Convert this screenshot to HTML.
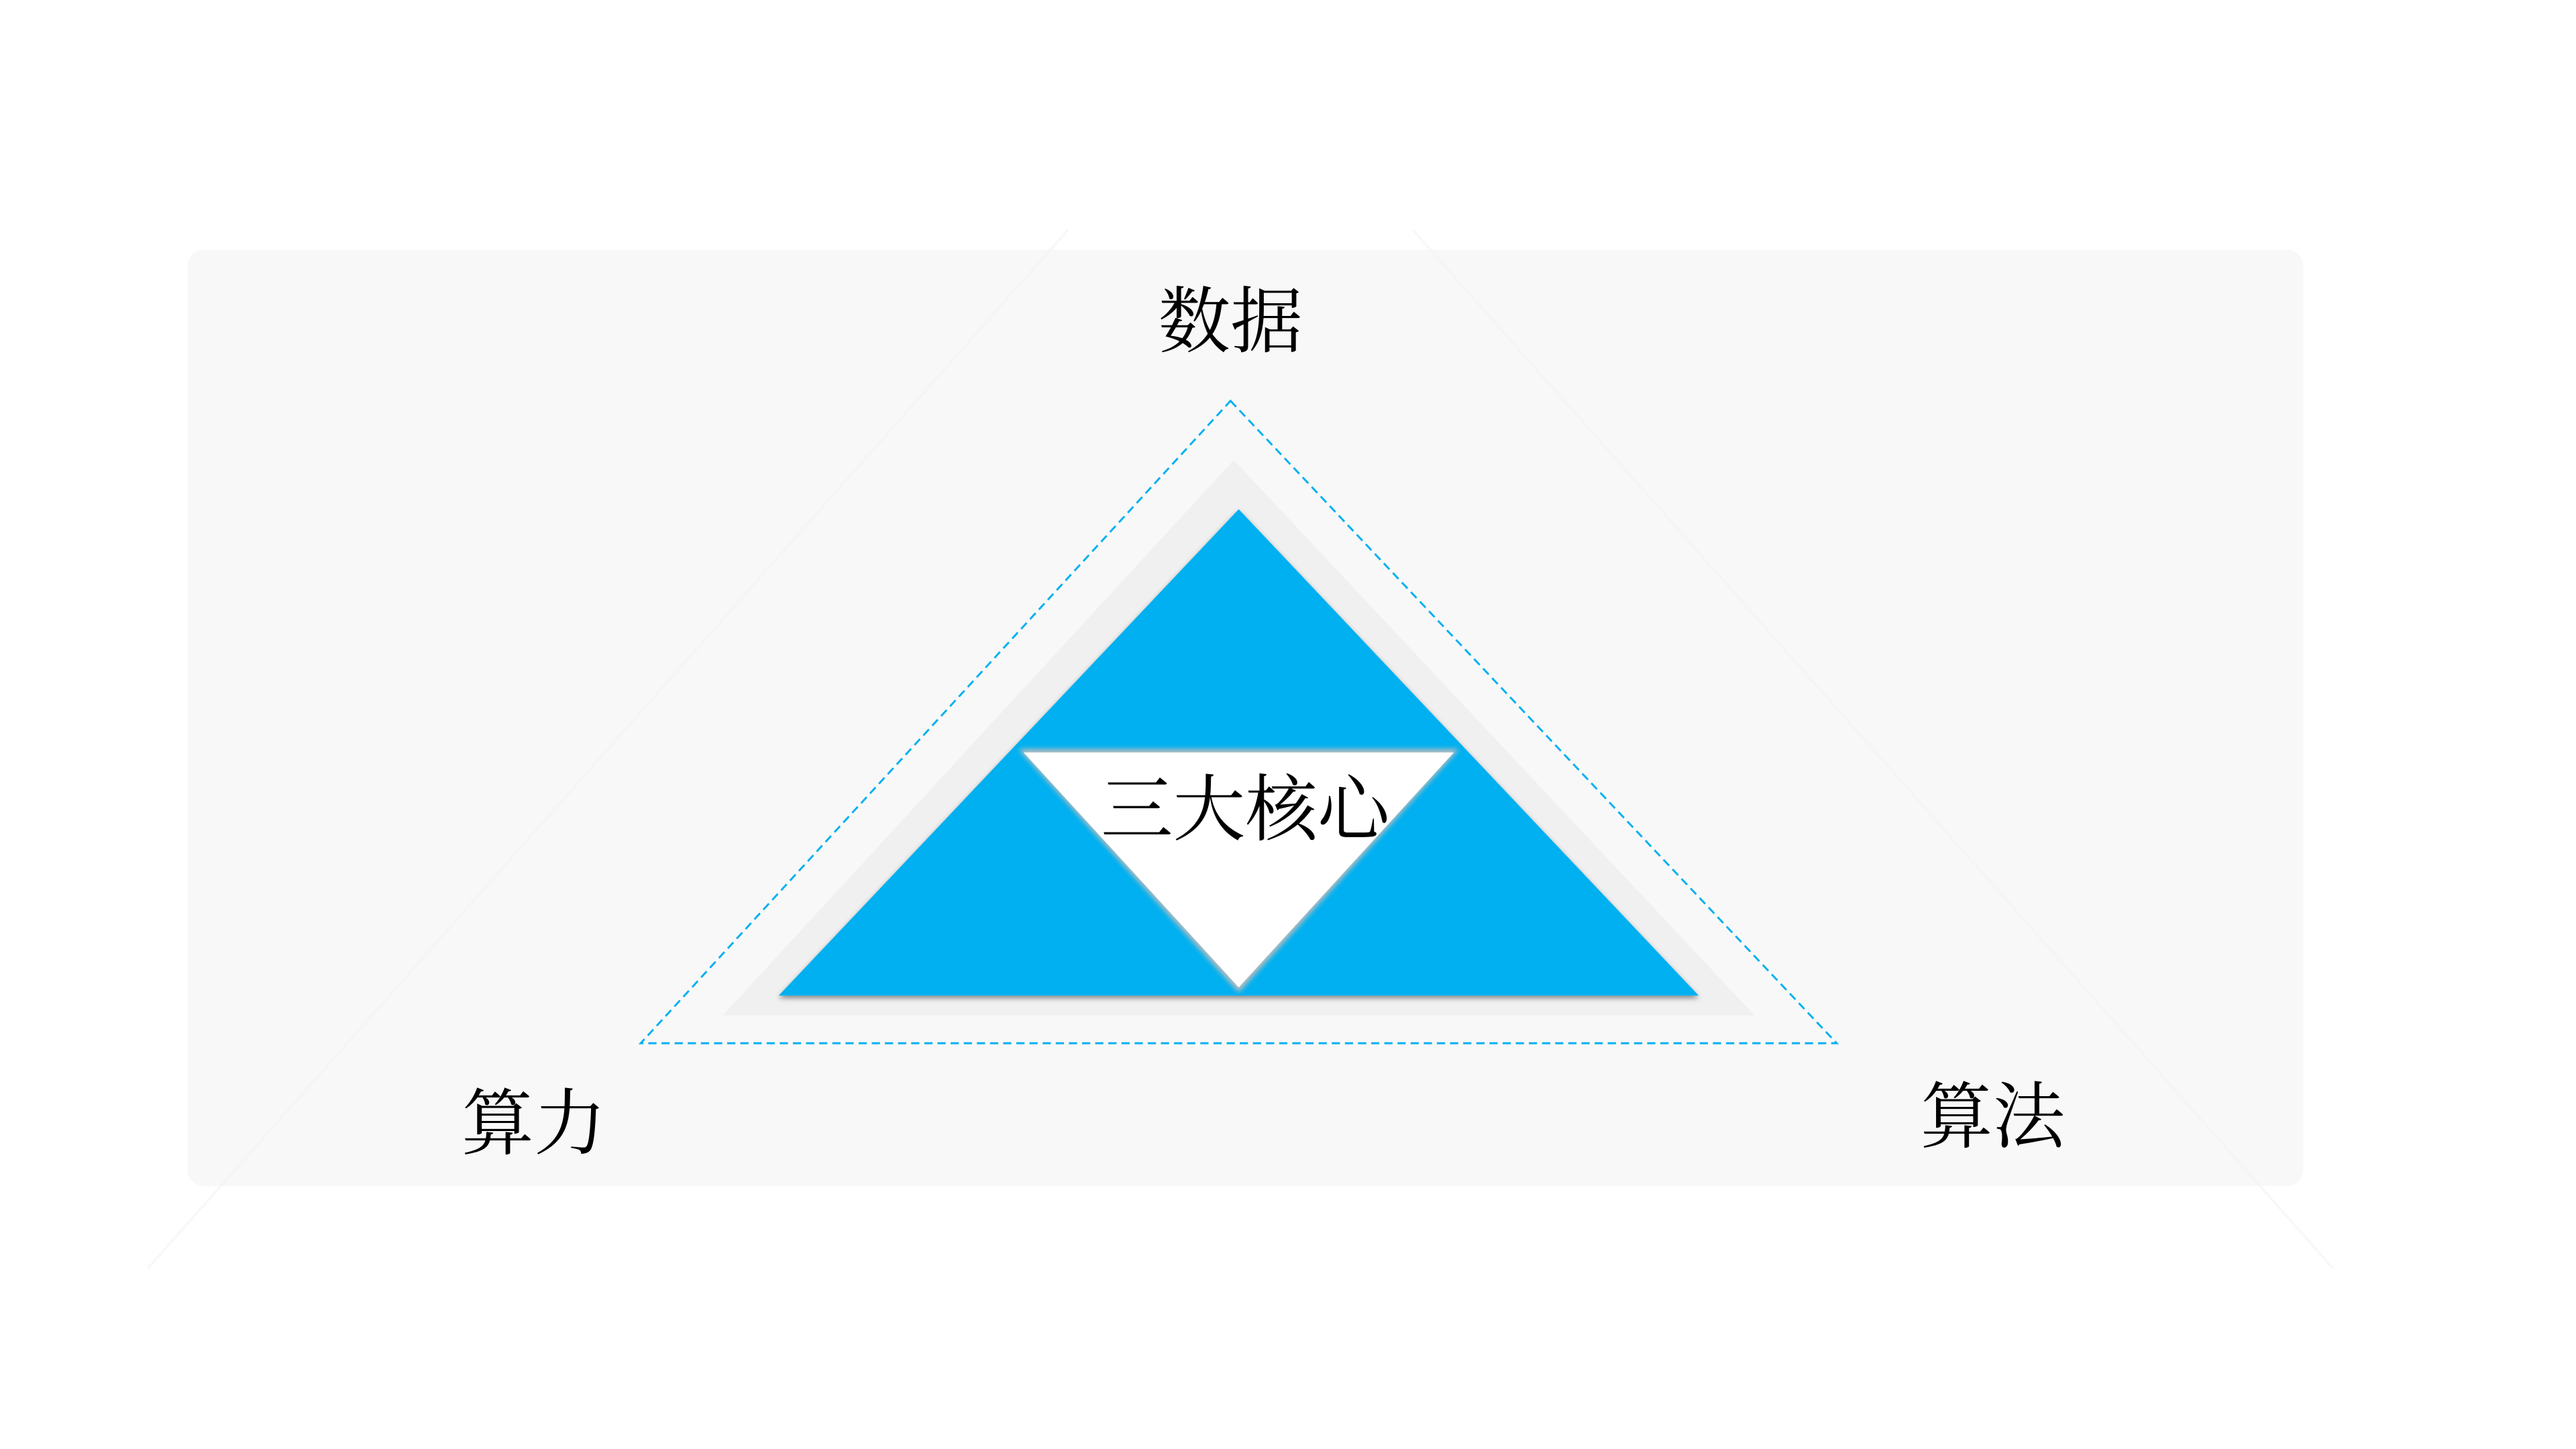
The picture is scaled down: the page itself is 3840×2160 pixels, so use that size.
<!DOCTYPE html>
<html><head><meta charset="utf-8"><style>
html,body{margin:0;padding:0;background:#fff;}
svg{display:block;}
</style></head><body>
<svg width="3840" height="2160" viewBox="0 0 1568 882" xmlns="http://www.w3.org/2000/svg">
<defs>
<filter id="sh" x="-10%" y="-10%" width="120%" height="120%">
<feDropShadow dx="0" dy="1.5" stdDeviation="1.5" flood-color="#000" flood-opacity="0.45"/>
</filter>
<filter id="ish" x="-10%" y="-10%" width="120%" height="120%">
<feGaussianBlur stdDeviation="1.5"/>
</filter>
</defs>
<rect x="0" y="0" width="1568" height="882" fill="#fff"/>
<rect x="114" y="152" width="1288" height="570" rx="10" fill="#f8f8f8"/>
<polyline points="90,772 650,140" stroke="#f4f4f4" stroke-width="1.5" fill="none" opacity="0.6"/>
<polyline points="1420,772 860,140" stroke="#f4f4f4" stroke-width="1.5" fill="none" opacity="0.6"/>
<polygon points="749,244 1118,635 390,635" fill="none" stroke="#00b0f0" stroke-width="1.2" stroke-dasharray="5,3"/>
<polygon points="751,280 1068,618 440,618" fill="#f0f0f0"/>
<polygon points="754,310 1034,606 474,606" fill="#00b0f0" filter="url(#sh)"/>
<polygon points="620,456 888,456 754,604" fill="#bdbdbd" filter="url(#ish)"/>
<polygon points="623,458 885,458 754,601" fill="#fff"/>
<g font-family="'Liberation Serif','Noto Serif CJK SC',serif" font-size="44" fill="#000" text-anchor="middle">
<text x="758" y="508">三大核心</text>
<text x="749" y="211">数据</text>
<text x="325" y="699">算力</text>
<text x="1213" y="695">算法</text>
</g>
</svg>
</body></html>
